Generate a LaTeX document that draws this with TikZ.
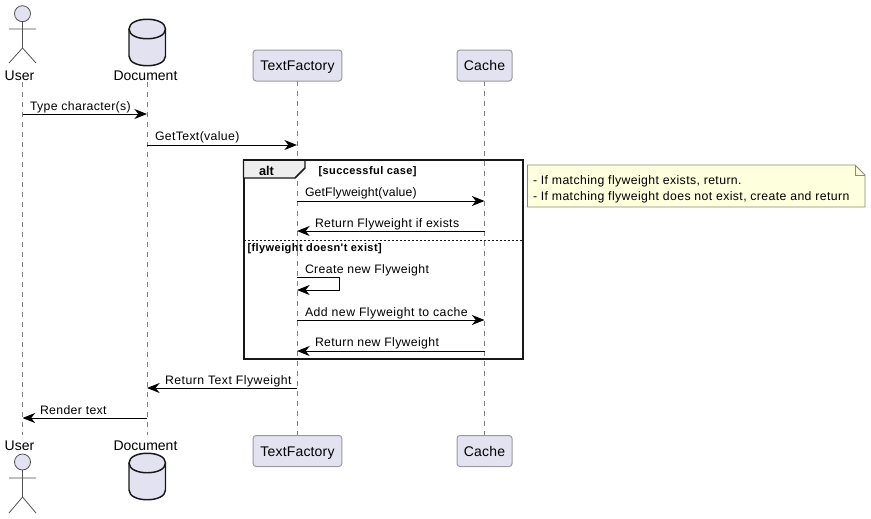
\documentclass[tikz,border=0pt]{standalone}
\usepackage{fontspec}
\setmainfont{Liberation Sans}
\newfontfamily\spacedfont[LetterSpace=2.9]{Liberation Sans}
\newfontfamily\tightfont[LetterSpace=1.2]{Liberation Sans}
\newfontfamily\widefont[LetterSpace=3.9]{Liberation Sans}
\newfontfamily\annotfont[LetterSpace=3.2]{Liberation Sans}
\usetikzlibrary{arrows.meta}
\definecolor{partfill}{HTML}{E2E2F0}
\definecolor{partline}{HTML}{181818}
\definecolor{lifeline}{HTML}{808080}
\definecolor{notefill}{HTML}{FEFFDD}
\definecolor{noteline}{HTML}{8A8A7A}
\definecolor{tabfill}{HTML}{EEEEEE}
\definecolor{boxgray}{HTML}{9A9AA0}
\tikzset{
  x=0.75pt,y=-0.75pt,
  txt/.style={inner sep=0pt,outer sep=0pt,anchor=base west,font=\fontsize{9.6pt}{11pt}\selectfont,text=black},
  msgtxt/.style={txt,font=\spacedfont\fontsize{9.2pt}{11pt}\selectfont},
  tighttxt/.style={txt,font=\tightfont\fontsize{9.2pt}{11pt}\selectfont},
  widetxt/.style={txt,font=\widefont\fontsize{9.2pt}{11pt}\selectfont},
  parttxt/.style={inner sep=0pt,outer sep=0pt,anchor=base,font=\fontsize{10.5pt}{12pt}\selectfont,text=black},
  grouptxt/.style={txt,font=\widefont\fontsize{8.25pt}{10pt}\bfseries\selectfont},
  notetxt/.style={txt,font=\annotfont\fontsize{9.2pt}{11pt}\selectfont},
  partbox/.style={draw=boxgray,fill=partfill,line width=0.75pt,rounded corners=2.2pt,inner sep=0pt,minimum height=23.25pt,text height=7.6pt,text depth=0pt,font=\tightfont\fontsize{10.5pt}{12pt}\selectfont},
  lifel/.style={draw=lifeline,line width=0.6pt,dash pattern=on 3.75pt off 3.75pt},
  msg/.style={draw=black,line width=0.75pt,-{Stealth[length=9.5pt,width=7.5pt,inset=3pt]}},
  actorline/.style={draw=partline!75,line width=0.6pt},
  dbshape/.style={draw=partline,fill=partfill,line width=1.1pt},
}
\begin{document}
\begin{tikzpicture}
\useasboundingbox (0,0) rectangle (871,518);
\fill[white] (0,0) rectangle (871,518);
% lifelines
\coordinate (uT) at (22.5,82); \coordinate (uB) at (22.5,435);
\coordinate (dT) at (147,82);  \coordinate (dB) at (147,435);
\coordinate (tT) at (297,81);  \coordinate (tB) at (297,435);
\coordinate (cT) at (484.5,81);\coordinate (cB) at (484.5,435);
\draw[lifel] (uT) -- (uB);
\draw[lifel] (dT) -- (dB);
\draw[lifel] (tT) -- (tB);
\draw[lifel] (cT) -- (cB);
% participant boxes
\node[partbox,minimum width=66.5pt] (tfTop) at (297.5,65.5) {TextFactory};
\node[partbox,minimum width=41.25pt] (caTop) at (484.5,65.5) {Cache};
\node[partbox,minimum width=66.5pt] (tfBot) at (297.5,451) {TextFactory};
\node[partbox,minimum width=41.25pt] (caBot) at (484.5,451) {Cache};
% actor top
\draw[actorline,fill=partfill] (22.5,13.7) circle (6pt);
\draw[actorline] (22.5,21.7) -- (22.5,48) (9,29) -- (36,29) (9,63) -- (22.5,48) -- (36,63);
\node[parttxt] (userTop) at (19.5,80) {User};
% actor bottom
\draw[actorline,fill=partfill] (22.5,462) circle (6pt);
\draw[actorline] (22.5,470) -- (22.5,497) (9,478) -- (36,478) (9,513) -- (22.5,497) -- (36,513);
\node[parttxt] (userBot) at (19.5,450) {User};
% database top
\draw[dbshape] (129,29) .. controls (129,16) and (165.5,16) .. (165.5,29) -- (165.5,56) .. controls (165.5,69) and (129,69) .. (129,56) -- cycle;
\draw[dbshape,fill=none] (129,29) .. controls (129,42) and (165.5,42) .. (165.5,29);
\node[parttxt] (docTop) at (145.5,80) {Document};
% database bottom
\draw[dbshape] (129,463) .. controls (129,450) and (165.5,450) .. (165.5,463) -- (165.5,490) .. controls (165.5,503) and (129,503) .. (129,490) -- cycle;
\draw[dbshape,fill=none] (129,463) .. controls (129,476) and (165.5,476) .. (165.5,463);
\node[parttxt] (docBot) at (145.5,450) {Document};
% alt frame
\draw[draw=partline,line width=1.5pt] (243.5,160) rectangle (522.5,359);
\draw[draw=partline,line width=1.1pt,fill=tabfill] (243.5,160) -- (305,160) -- (305,168) -- (295,178) -- (243.5,178) -- cycle;
\draw[draw=partline,line width=1.5pt] (243.5,160) -- (522.5,160);
\node[txt,font=\fontsize{9.6pt}{11pt}\bfseries\selectfont] (altLabel) at (259,175) {alt};
\node[grouptxt] (case1) at (318.5,174) {[successful case]};
\node[grouptxt] (case2) at (247.5,251) {[flyweight doesn't exist]};
\coordinate (sepL) at (243.5,240); \coordinate (sepR) at (522.5,240);
\draw[partline,line width=0.6pt,dash pattern=on 1.5pt off 1.5pt] (sepL) -- (sepR);
% note
\draw[draw=noteline,fill=notefill,line width=0.6pt] (527.5,165) -- (855,165) -- (865,175) -- (865,207) -- (527.5,207) -- cycle;
\draw[draw=noteline,line width=0.6pt] (855,165) -- (855,175) -- (865,175);
\node[notetxt] (n1) at (533,184) {- If matching flyweight exists, return.};
\node[notetxt] (n2) at (533,200) {- If matching flyweight does not exist, create and return};
% messages
\coordinate (m1a) at (22.5,114); \coordinate (m1b) at (147,114);
\coordinate (m2a) at (147,145); \coordinate (m2b) at (297,145);
\coordinate (m3a) at (297,201); \coordinate (m3b) at (484.5,201);
\coordinate (m4a) at (484.5,231); \coordinate (m4b) at (297,231);
\coordinate (m5a) at (297,277); \coordinate (m5c) at (339.5,277); \coordinate (m5d) at (339.5,290); \coordinate (m5b) at (297,290);
\coordinate (m6a) at (297,320); \coordinate (m6b) at (484.5,320);
\coordinate (m7a) at (484.5,351); \coordinate (m7b) at (297,351);
\coordinate (m8a) at (297,388); \coordinate (m8b) at (147,388);
\coordinate (m9a) at (147,418); \coordinate (m9b) at (22.5,418);
\draw[msg] (m1a) -- (m1b);
\draw[msg] (m2a) -- (m2b);
\draw[msg] (m3a) -- (m3b);
\draw[msg] (m4a) -- (m4b);
\draw[msg] (m5a) -- (m5c) -- (m5d) -- (m5b);
\draw[msg] (m6a) -- (m6b);
\draw[msg] (m7a) -- (m7b);
\draw[msg] (m8a) -- (m8b);
\draw[msg] (m9a) -- (m9b);
\node[msgtxt] (l1) at (30,110) {Type character(s)};
\node[msgtxt] (l2) at (155,140) {GetText(value)};
\node[tighttxt] (l3) at (305,196) {GetFlyweight(value)};
\node[msgtxt] (l4) at (315,227) {Return Flyweight if exists};
\node[msgtxt] (l5) at (305,273) {Create new Flyweight};
\node[widetxt] (l6) at (305,316) {Add new Flyweight to cache};
\node[msgtxt] (l7) at (315,346) {Return new Flyweight};
\node[widetxt] (l8) at (165,384) {Return Text Flyweight};
\node[msgtxt] (l9) at (40,414) {Render text};
\end{tikzpicture}
\end{document}
